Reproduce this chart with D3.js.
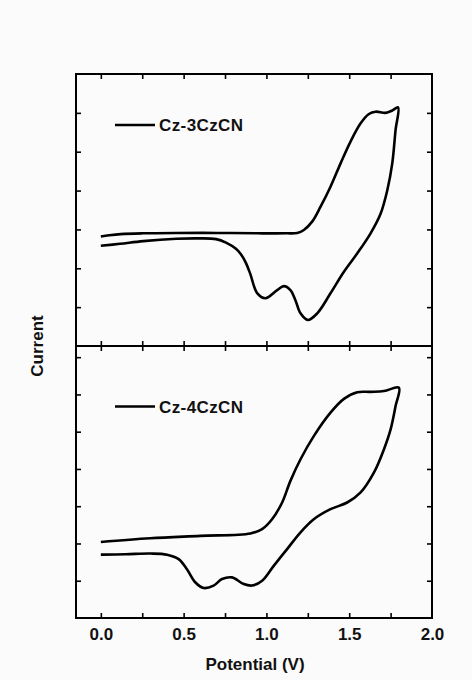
<!DOCTYPE html>
<html>
<head>
<meta charset="utf-8">
<script src="https://cdn.jsdelivr.net/npm/d3@7"></script>
<style>
  body { margin: 0; background: #fbfbfb; }
  svg { display: block; font-family: "Liberation Sans", Arial, sans-serif; }
  .axis path { display: none; }
  .axis line { stroke: #000; stroke-width: 1.6; }
  .axis text { font-size: 17px; font-weight: bold; fill: #111; }
  .label { font-size: 17px; font-weight: bold; fill: #111; }
  .legend text { font-size: 17px; font-weight: bold; fill: #111; letter-spacing: 0.4px; }
  .curve { fill: none; stroke: #000; stroke-width: 2.6; stroke-linejoin: round; }
</style>
</head>
<body>
<svg></svg>
<script>
// potential (V) vs current (a.u.)
var names = ["Cz-3CzCN", "Cz-4CzCN"];

var cz3Forward = [[0,2.82],[0.05,2.85],[0.12,2.88],[0.25,2.9],[0.45,2.91],[0.7,2.91],[0.95,2.9],[1.12,2.9],
  [1.186,2.91],[1.226,2.985],[1.276,3.2],[1.327,3.585],[1.387,4.1],[1.448,4.7],[1.508,5.26],[1.569,5.73],
  [1.619,5.97],[1.659,6.03],[1.72,6.0],[1.76,6.06],[1.795,6.14]];
var cz3Reverse = [[1.78,5.56],[1.76,4.7],[1.73,4.01],[1.69,3.41],[1.629,2.9],[1.549,2.385],[1.468,1.91],
  [1.387,1.356],[1.307,0.84],[1.25,0.67],[1.206,0.84],[1.175,1.18],[1.145,1.44],[1.105,1.54],[1.065,1.44],
  [0.994,1.23],[0.944,1.36],[0.903,1.85],[0.876,2.14],[0.846,2.36],[0.816,2.5],[0.756,2.66],[0.696,2.75],
  [0.596,2.77],[0.456,2.76],[0.256,2.7],[0.116,2.63],[0,2.58]];

var cz4Forward = [[0,2.04],[0.298,2.14],[0.6,2.205],[0.903,2.27],[0.974,2.385],[1.034,2.65],[1.095,3.1],
  [1.145,3.68],[1.206,4.26],[1.286,4.88],[1.387,5.51],[1.468,5.88],[1.549,6.06],[1.629,6.07],[1.71,6.09],
  [1.8,6.18]];
var cz4Reverse = [[1.78,5.69],[1.75,5.06],[1.71,4.53],[1.649,3.9],[1.569,3.37],[1.488,3.1],[1.387,2.92],
  [1.286,2.65],[1.206,2.3],[1.125,1.85],[1.044,1.4],[0.974,1.0],[0.913,0.87],[0.863,0.91],[0.792,1.09],
  [0.732,1.045],[0.681,0.87],[0.621,0.805],[0.57,0.96],[0.52,1.31],[0.47,1.58],[0.4,1.7],[0.3,1.73],
  [0.15,1.71],[0,1.7]];

var xTicks = [0, 0.25, 0.5, 0.75, 1.0, 1.25, 1.5, 1.75];
var xLabels = [0, 0.5, 1.0, 1.5, 2.0];
var yTicksTop = [1, 2, 3, 4, 5, 6];
var yTicksBottom = [1, 2, 3, 4, 5, 6, 7];

var screen = {width:472, height:680};
var frame = {left:76, right:432, top:74, mid:346, bottom:618};

var svg = d3.select("svg")
    .attr("width", screen.width)
    .attr("height", screen.height);

var xScale = d3.scaleLinear()
    .domain([-0.15, 2.0])
    .range([frame.left, frame.right]);

var panels = [
  {name:names[0], data:cz3Forward.concat(cz3Reverse), top:frame.top, bottom:frame.mid, yMax:7, ticks:yTicksTop, legendY:125},
  {name:names[1], data:cz4Forward.concat(cz4Reverse), top:frame.mid, bottom:frame.bottom, yMax:7.3, ticks:yTicksBottom, legendY:406.5}
];

var drawPanel = function(p, isLast)
{
    var yScale = d3.scaleLinear()
        .domain([0, p.yMax])
        .range([p.bottom, p.top]);

    var g = svg.append("g");

    // inward ticks on all four sides
    g.append("g").classed("axis", true)
        .attr("transform", "translate(0," + p.bottom + ")")
        .call(d3.axisBottom(xScale).tickValues(xTicks).tickSize(-5).tickFormat(""));
    g.append("g").classed("axis", true)
        .attr("transform", "translate(0," + p.top + ")")
        .call(d3.axisTop(xScale).tickValues(xTicks).tickSize(-5).tickFormat(""));
    g.append("g").classed("axis", true)
        .attr("transform", "translate(" + frame.left + ",0)")
        .call(d3.axisLeft(yScale).tickValues(p.ticks).tickSize(-5).tickFormat(""));
    g.append("g").classed("axis", true)
        .attr("transform", "translate(" + frame.right + ",0)")
        .call(d3.axisRight(yScale).tickValues(p.ticks).tickSize(-5).tickFormat(""));

    if (isLast)
    {
        g.append("g").classed("axis", true)
            .attr("transform", "translate(0," + p.bottom + ")")
            .call(d3.axisBottom(xScale).tickValues(xLabels).tickSize(0).tickPadding(10)
                  .tickFormat(d3.format(".1f")));
    }

    var line = d3.line()
        .x(function(d) { return xScale(d[0]); })
        .y(function(d) { return yScale(d[1]); })
        .curve(d3.curveCatmullRom.alpha(0.5));

    g.append("path")
        .datum(p.data)
        .classed("curve", true)
        .attr("d", line);

    g.append("rect")
        .attr("x", frame.left)
        .attr("y", p.top)
        .attr("width", frame.right - frame.left)
        .attr("height", p.bottom - p.top)
        .attr("fill", "none")
        .attr("stroke", "#000")
        .attr("stroke-width", 2);

    var legend = g.append("g").classed("legend", true);
    legend.append("line")
        .attr("x1", 115).attr("x2", 155)
        .attr("y1", p.legendY).attr("y2", p.legendY)
        .attr("stroke", "#000").attr("stroke-width", 2.4);
    legend.append("text")
        .attr("x", 159)
        .attr("y", p.legendY + 6)
        .text(p.name);
}

panels.forEach(function(p, i) { drawPanel(p, i == panels.length - 1); });

svg.append("text")
    .classed("label", true)
    .attr("text-anchor", "middle")
    .attr("x", (frame.left + frame.right) / 2 + 1)
    .attr("y", 670)
    .text("Potential (V)");

svg.append("text")
    .classed("label", true)
    .attr("text-anchor", "middle")
    .attr("transform", "translate(42.5," + ((frame.top + frame.bottom) / 2) + ") rotate(-90)")
    .text("Current");
</script>
</body>
</html>
